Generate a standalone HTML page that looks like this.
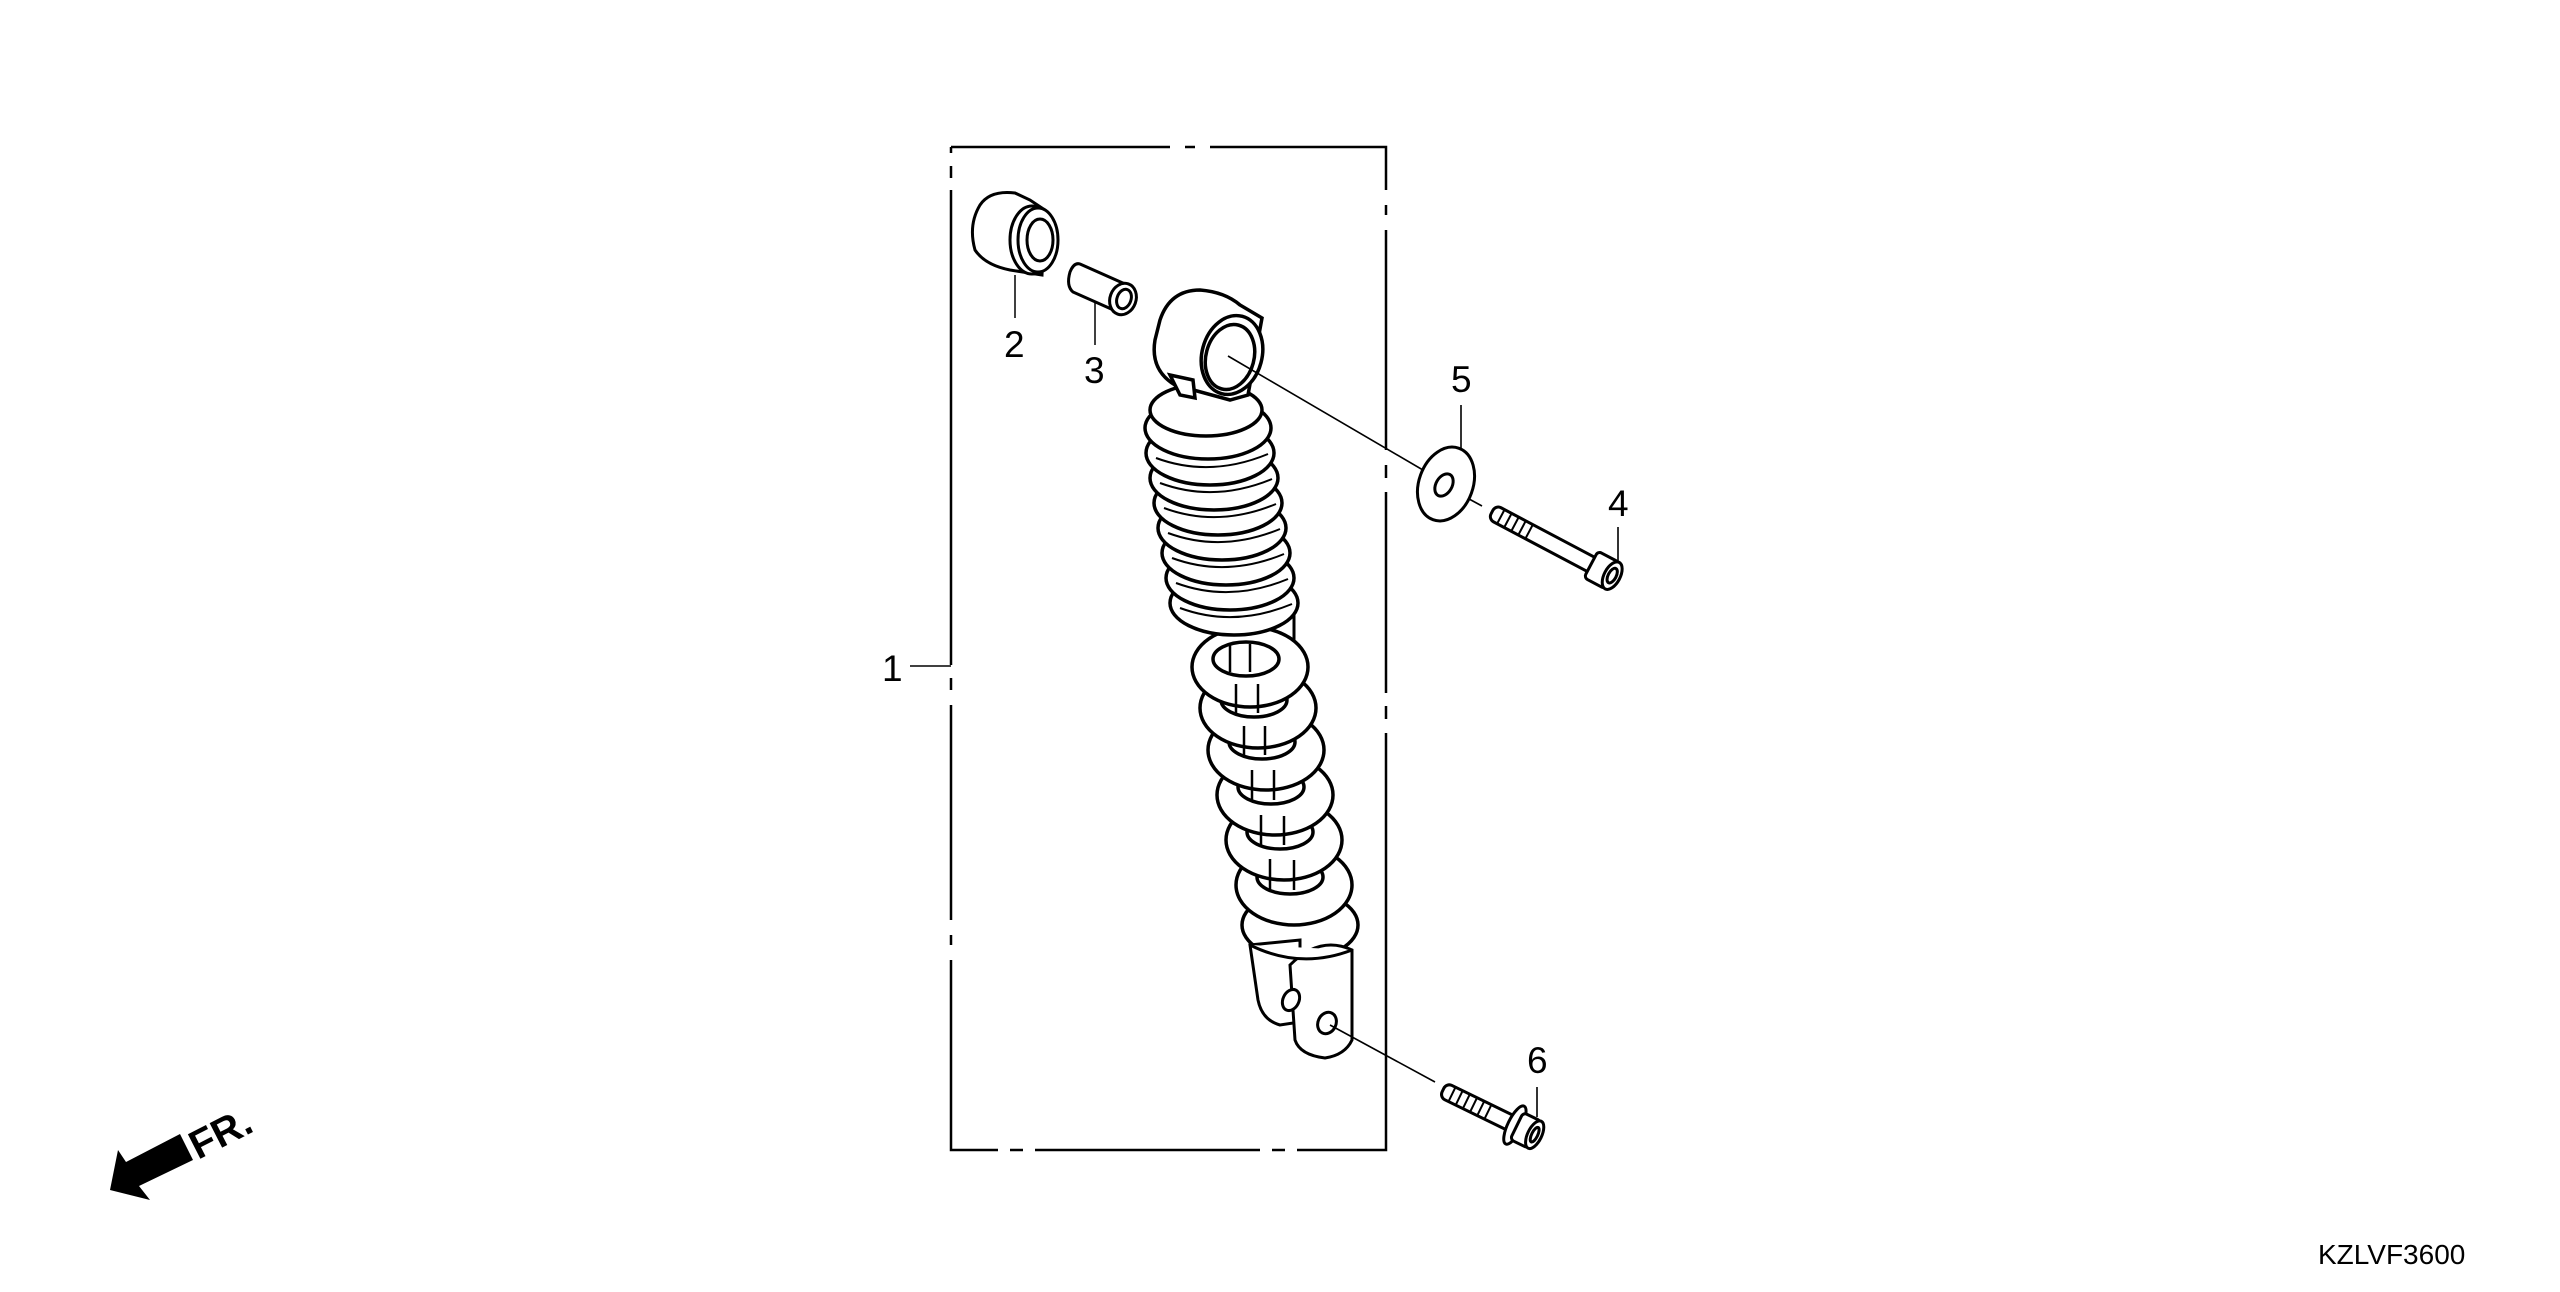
<!DOCTYPE html>
<html><head><meta charset="utf-8"><style>
html,body{margin:0;padding:0;background:#fff;}
svg{display:block;}
text{font-family:"Liberation Sans",sans-serif;fill:#000;}
</style></head><body>
<svg width="2560" height="1292" viewBox="0 0 2560 1292" xmlns="http://www.w3.org/2000/svg">
<g fill="none" stroke="#000" stroke-width="2.5">
<path d="M951 147 H1170 M1185 147 H1195 M1210 147 H1386 V190 M1386 205 V215 M1386 230 V450 M1386 465 V478 M1386 492 V693 M1386 706 V719 M1386 733 V1150 H1297 M1285 1150 H1272 M1260 1150 H1035 M1023 1150 H1010 M998 1150 H951 V960 M951 945 V935 M951 920 V705 M951 690 V678 M951 665 V190 M951 178 V166 M951 153 V147"/>
</g>
<line x1="910" y1="666" x2="951" y2="666" stroke="#000" stroke-width="1.5"/>
<text x="882" y="681" font-size="37">1</text>

<!-- Bushing 2 -->
<g stroke="#000" stroke-width="3" fill="#fff">
<path d="M980 205 Q990 190 1015 193 L1030 200 L1045 210 L1042 275 L1010 270 Q985 265 975 250 Q968 225 980 205 Z"/>
<ellipse cx="1032" cy="240" rx="22" ry="34"/>
<ellipse cx="1038" cy="240" rx="20" ry="32"/>
<ellipse cx="1040" cy="240" rx="13" ry="21"/>
</g>
<line x1="1015" y1="275" x2="1015" y2="318" stroke="#000" stroke-width="1.5"/>
<text x="1004" y="357" font-size="37">2</text>

<!-- Collar 3 -->
<g stroke="#000" stroke-width="3" fill="#fff">
<path d="M1080 264 L1125 284 L1118 312 L1073 292 Q1066 286 1070 272 Q1074 262 1080 264 Z"/>
<ellipse cx="1123" cy="299" rx="13" ry="16" transform="rotate(20 1123 299)"/>
<ellipse cx="1124" cy="299" rx="7" ry="10" transform="rotate(20 1124 299)"/>
</g>
<line x1="1095" y1="303" x2="1095" y2="345" stroke="#000" stroke-width="1.5"/>
<text x="1084" y="383" font-size="37">3</text>

<!-- Shock: rod -->
<g stroke="#000" stroke-width="3" fill="#fff">
<rect x="1260" y="600" width="34" height="340"/>
</g>
<!-- open coils bottom-up -->
<g stroke="#000" stroke-width="3.5" fill="#fff">
<ellipse cx="1300" cy="925" rx="58" ry="34"/>
<ellipse cx="1294" cy="885" rx="58" ry="40"/><ellipse cx="1290" cy="877" rx="33" ry="17"/>
<ellipse cx="1284" cy="840" rx="58" ry="40"/><ellipse cx="1280" cy="832" rx="33" ry="17"/>
<ellipse cx="1275" cy="795" rx="58" ry="40"/><ellipse cx="1271" cy="787" rx="33" ry="17"/>
<ellipse cx="1266" cy="750" rx="58" ry="40"/><ellipse cx="1262" cy="742" rx="33" ry="17"/>
<ellipse cx="1258" cy="708" rx="58" ry="40"/><ellipse cx="1254" cy="700" rx="33" ry="17"/>
<ellipse cx="1250" cy="667" rx="58" ry="40"/><ellipse cx="1246" cy="659" rx="33" ry="17"/>
</g>
<g stroke="#000" stroke-width="2.5">
<line x1="1270" y1="859" x2="1270" y2="890"/><line x1="1294" y1="860" x2="1294" y2="890"/>
<line x1="1261" y1="815" x2="1261" y2="845"/><line x1="1284" y1="816" x2="1284" y2="845"/>
<line x1="1252" y1="770" x2="1252" y2="800"/><line x1="1274" y1="770" x2="1274" y2="800"/>
<line x1="1244" y1="726" x2="1244" y2="755"/><line x1="1265" y1="726" x2="1265" y2="755"/>
<line x1="1236" y1="684" x2="1236" y2="713"/><line x1="1258" y1="684" x2="1258" y2="713"/>
<line x1="1230" y1="644" x2="1230" y2="672"/><line x1="1250" y1="644" x2="1250" y2="672"/>
</g>
<!-- tight coils bottom-up -->
<g stroke="#000" stroke-width="3.5" fill="#fff">
<ellipse cx="1234" cy="603" rx="64" ry="32"/>
<ellipse cx="1230" cy="578" rx="64" ry="32"/>
<ellipse cx="1226" cy="553" rx="64" ry="32"/>
<ellipse cx="1222" cy="528" rx="64" ry="32"/>
<ellipse cx="1218" cy="503" rx="64" ry="32"/>
<ellipse cx="1214" cy="478" rx="64" ry="32"/>
<ellipse cx="1210" cy="453" rx="64" ry="32"/>
<ellipse cx="1208" cy="428" rx="63" ry="31"/>
<ellipse cx="1206" cy="410" rx="56" ry="26"/>
</g>
<g stroke="#000" stroke-width="2" fill="none">
<path d="M1156 458 Q1210 478 1268 454"/><path d="M1160 483 Q1214 503 1272 479"/>
<path d="M1164 508 Q1218 528 1276 504"/><path d="M1168 533 Q1222 553 1280 529"/>
<path d="M1172 558 Q1226 578 1284 554"/><path d="M1176 583 Q1230 603 1288 579"/>
<path d="M1180 608 Q1234 628 1292 604"/>
</g>
<!-- clevis -->
<g stroke="#000" stroke-width="3" fill="#fff">
<path d="M1250 945 L1258 1000 Q1262 1020 1280 1025 L1300 1022 L1300 940 Z"/>
<path d="M1290 965 L1295 1040 Q1300 1055 1325 1058 Q1345 1055 1352 1040 L1352 950 Q1320 935 1290 965 Z"/>
<path d="M1250 945 Q1300 970 1352 950"/>
<ellipse cx="1291" cy="1000" rx="8" ry="11" transform="rotate(25 1291 1000)"/>
<ellipse cx="1327" cy="1023" rx="9" ry="11" transform="rotate(25 1327 1023)"/>
</g>
<!-- top eye -->
<g stroke="#000" stroke-width="3.5" fill="#fff">
<path d="M1160 320 Q1170 290 1200 290 Q1225 292 1240 305 L1262 318 L1248 395 L1230 400 L1175 385 Q1150 370 1155 340 Z"/>
<ellipse cx="1232" cy="355" rx="30" ry="40" transform="rotate(15 1232 355)"/>
<ellipse cx="1230" cy="357" rx="24" ry="33" transform="rotate(15 1230 357)"/>
<path d="M1170 375 L1180 395 L1195 398 L1193 380 Z"/>
</g>
<!-- leader lines -->
<g stroke="#000" stroke-width="1.6">
<line x1="1228" y1="356" x2="1440" y2="480"/>
<line x1="1447" y1="487" x2="1482" y2="506"/>
<line x1="1461" y1="405" x2="1461" y2="448"/>
<line x1="1618" y1="527" x2="1618" y2="562"/>
<line x1="1330" y1="1025" x2="1435" y2="1082"/>
<line x1="1537" y1="1087" x2="1537" y2="1117"/>
</g>
<!-- washer 5 -->
<g stroke="#000" stroke-width="3" fill="#fff">
<ellipse cx="1446" cy="484" rx="27" ry="38" transform="rotate(20 1446 484)"/>
<ellipse cx="1444" cy="485" rx="8" ry="12" transform="rotate(30 1444 485)"/>
</g>
<text x="1451" y="392" font-size="37">5</text>
<!-- bolt 4 -->
<g transform="translate(1492 512) rotate(27.9)" stroke="#000" stroke-width="3" fill="#fff">
<rect x="0" y="-8" width="118" height="16" rx="6"/>
<path d="M10 -8 V8 M18 -8 V8 M26 -8 V8 M34 -8 V8 M42 -8 V8" stroke-width="2"/>
<rect x="112" y="-15" width="24" height="30" rx="4"/>
<ellipse cx="136" cy="0" rx="8" ry="15"/>
<ellipse cx="136" cy="0" rx="4" ry="8"/>
</g>
<text x="1608" y="516" font-size="37">4</text>
<!-- bolt 6 -->
<g transform="translate(1443 1090) rotate(26)" stroke="#000" stroke-width="3" fill="#fff">
<rect x="0" y="-8" width="82" height="16" rx="6"/>
<path d="M10 -8 V8 M18 -8 V8 M26 -8 V8 M34 -8 V8 M42 -8 V8 M50 -8 V8" stroke-width="2"/>
<ellipse cx="80" cy="0" rx="7" ry="21"/>
<rect x="82" y="-15" width="20" height="30" rx="4"/>
<ellipse cx="102" cy="0" rx="7" ry="15"/>
<ellipse cx="102" cy="0" rx="3" ry="8"/>
</g>
<text x="1527" y="1073" font-size="37">6</text>

<!-- FR arrow -->
<polygon points="110,1190 118,1150 126,1162 180,1134 193,1160 139,1186 150,1200" fill="#000"/>
<text x="0" y="0" font-size="40" font-weight="bold" transform="translate(198 1160) rotate(-27)">FR.</text>

<text x="2318" y="1264" font-size="28">KZLVF3600</text>
</svg>
</body></html>
